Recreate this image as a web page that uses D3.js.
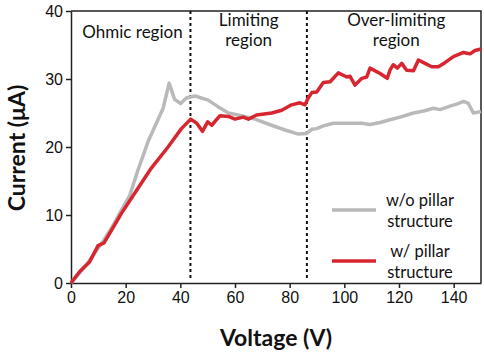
<!DOCTYPE html>
<html>
<head>
<meta charset="utf-8">
<script src="https://cdn.jsdelivr.net/npm/d3@7"></script>
<style>
  body { margin: 0; background: #fff; }
  svg { font-family: Lato, "Open Sans", sans-serif; }
  .axis text { font-size: 16px; fill: #111; }
  .axis path, .axis line { stroke: #222; stroke-width: 1.5; }
  .axis-title { font-size: 23px; font-weight: bold; fill: #111; }
  .region-label { font-size: 17px; fill: #111; }
  .legend-label { font-size: 16.5px; fill: #111; }
</style>
</head>
<body>
<div id="chart"></div>
<script>
// w/o pillar structure
var grayV = [0, 3, 6, 9, 12, 15, 18, 21.5, 24.5, 28.2, 31.8, 33.7, 35.9, 37.9, 40.1, 42.2, 45.4, 50.2, 53.9, 57.6,
             62.4, 67.3, 73.4, 78.3, 83.2, 86.2, 88.1, 89.9, 92.3, 96, 102.1, 106.4, 109.4, 113.1, 116.7, 120.4,
             125.3, 129, 132.6, 135, 138.7, 141.1, 143.6, 145.4, 147.2, 150];
var grayI = [0, 1.4, 2.9, 4.6, 6.3, 8.2, 10.4, 12.9, 16.6, 20.8, 24.0, 25.7, 29.4, 27.0, 26.4, 27.2, 27.5, 26.9, 25.9, 25.0,
             24.6, 24.1, 23.2, 22.5, 21.9, 22.0, 22.6, 22.7, 23.1, 23.5, 23.5, 23.5, 23.3, 23.6, 24.0, 24.4,
             25.0, 25.3, 25.7, 25.5, 26.0, 26.3, 26.7, 26.4, 25.0, 25.2];

// w/ pillar structure
var redV = [0, 3.2, 6.8, 9.9, 12.1, 18.4, 23.3, 29.4, 35.5, 40.4, 43.8, 46, 48.1, 50, 51.5, 54.5, 57.6, 60, 63,
            64.9, 67.9, 73.4, 77.1, 80.7, 83.8, 85.6, 86.8, 88.1, 89.9, 92.3, 94.8, 97.8, 100.9, 102.1, 103.9,
            106.4, 108.2, 109.4, 113.1, 115.7, 116.7, 117.9, 119.4, 121, 122.8, 125.3, 127.1, 129.5, 132, 134.4,
            136.8, 139.9, 143.6, 146, 147.8, 150];
var redI = [0, 1.7, 3.1, 5.5, 5.9, 10.2, 13.2, 16.9, 20.0, 22.7, 24.1, 23.5, 22.3, 23.7, 23.2, 24.6, 24.5, 24.1, 24.4,
            24.1, 24.7, 25.0, 25.4, 26.2, 26.5, 26.2, 27.2, 28.0, 28.1, 29.5, 29.6, 30.9, 30.3, 30.4, 29.1,
            30.1, 30.3, 31.6, 30.8, 30.1, 31.3, 32.1, 31.6, 32.3, 31.3, 31.2, 32.8, 32.3, 31.8, 31.8,
            32.4, 33.3, 33.9, 33.7, 34.2, 34.4];

var xTicks = [0, 20, 40, 60, 80, 100, 120, 140];
var yTicks = [0, 10, 20, 30, 40];
var regionBounds = [43.7, 86.3];
var regionLabels = [["Ohmic region"], ["Limiting", "region"], ["Over-limiting", "region"]];
var regionCenters = [22.5, 65, 119];
var seriesNames = [["w/o pillar", "structure"], ["w/ pillar", "structure"]];
var seriesColors = ["#b9b9b9", "#d7262f"];

var margin = { top: 11, right: 3, bottom: 73, left: 71 };
var width = 484 - margin.left - margin.right,
    height = 356 - margin.top - margin.bottom;

var svg = d3.select('#chart')
            .append('svg')
            .attr('width', 484)
            .attr('height', 356)
            .append('g')
            .attr('transform', 'translate(' + margin.left + ',' + margin.top + ')');

var x = d3.scaleLinear().domain([0, 150]).range([0, width]);
var y = d3.scaleLinear().domain([0, 40]).range([height, 0]);

// Axes
svg.append('g')
   .attr('class', 'axis')
   .attr('transform', 'translate(0,' + height + ')')
   .call(d3.axisBottom(x).tickValues(xTicks).tickSize(5).tickPadding(4).tickSizeOuter(0));

svg.append('g')
   .attr('class', 'axis')
   .call(d3.axisLeft(y).tickValues(yTicks).tickSize(5).tickPadding(3).tickSizeOuter(0));

// Top and right frame
svg.append('path')
   .attr('d', 'M0,0H' + width + 'V' + height)
   .attr('fill', 'none')
   .attr('stroke', '#222')
   .attr('stroke-width', 1.5);

// Region dividers
svg.selectAll('.divider')
   .data(regionBounds)
   .enter()
   .append('line')
   .attr('class', 'divider')
   .attr('x1', function(d) { return x(d); })
   .attr('x2', function(d) { return x(d); })
   .attr('y1', 0)
   .attr('y2', height - 5)
   .attr('stroke', '#111')
   .attr('stroke-width', 2)
   .attr('stroke-dasharray', '3,3');

// Region labels
regionLabels.forEach(function(lines, i) {
  var t = svg.append('text')
             .attr('class', 'region-label')
             .attr('text-anchor', 'middle')
             .attr('x', x(regionCenters[i]))
             .attr('y', lines.length === 1 ? 27 : 15);
  lines.forEach(function(s, j) {
    t.append('tspan')
     .attr('x', x(regionCenters[i]))
     .attr('dy', j === 0 ? 0 : 20)
     .text(s);
  });
});

// Lines
var line = d3.line()
             .x(function(d) { return x(d[0]); })
             .y(function(d) { return y(d[1]); });

var grayData = grayV.map(function(v, i) { return [v, grayI[i]]; });
var redData = redV.map(function(v, i) { return [v, redI[i]]; });

[grayData, redData].forEach(function(data, i) {
  svg.append('path')
     .datum(data)
     .attr('fill', 'none')
     .attr('stroke', seriesColors[i])
     .attr('stroke-width', 3.5)
     .attr('stroke-linejoin', 'round')
     .attr('d', line);
});

// Legend
var legendY = [199, 250];
seriesNames.forEach(function(lines, i) {
  svg.append('line')
     .attr('x1', 261)
     .attr('x2', 305)
     .attr('y1', legendY[i])
     .attr('y2', legendY[i])
     .attr('stroke', seriesColors[i])
     .attr('stroke-width', 3.5);
  var t = svg.append('text')
             .attr('class', 'legend-label')
             .attr('text-anchor', 'middle')
             .attr('y', legendY[i] - 4);
  lines.forEach(function(s, j) {
    t.append('tspan')
     .attr('x', 349)
     .attr('dy', j === 0 ? 0 : 21)
     .text(s);
  });
});

// Axis titles
svg.append('text')
   .attr('class', 'axis-title')
   .attr('text-anchor', 'middle')
   .attr('x', 205)
   .attr('y', height + 63)
   .text('Voltage (V)');

svg.append('text')
   .attr('class', 'axis-title')
   .attr('text-anchor', 'middle')
   .attr('transform', 'rotate(-90)')
   .attr('x', -137)
   .attr('y', -46)
   .text('Current (μA)');
</script>
</body>
</html>
